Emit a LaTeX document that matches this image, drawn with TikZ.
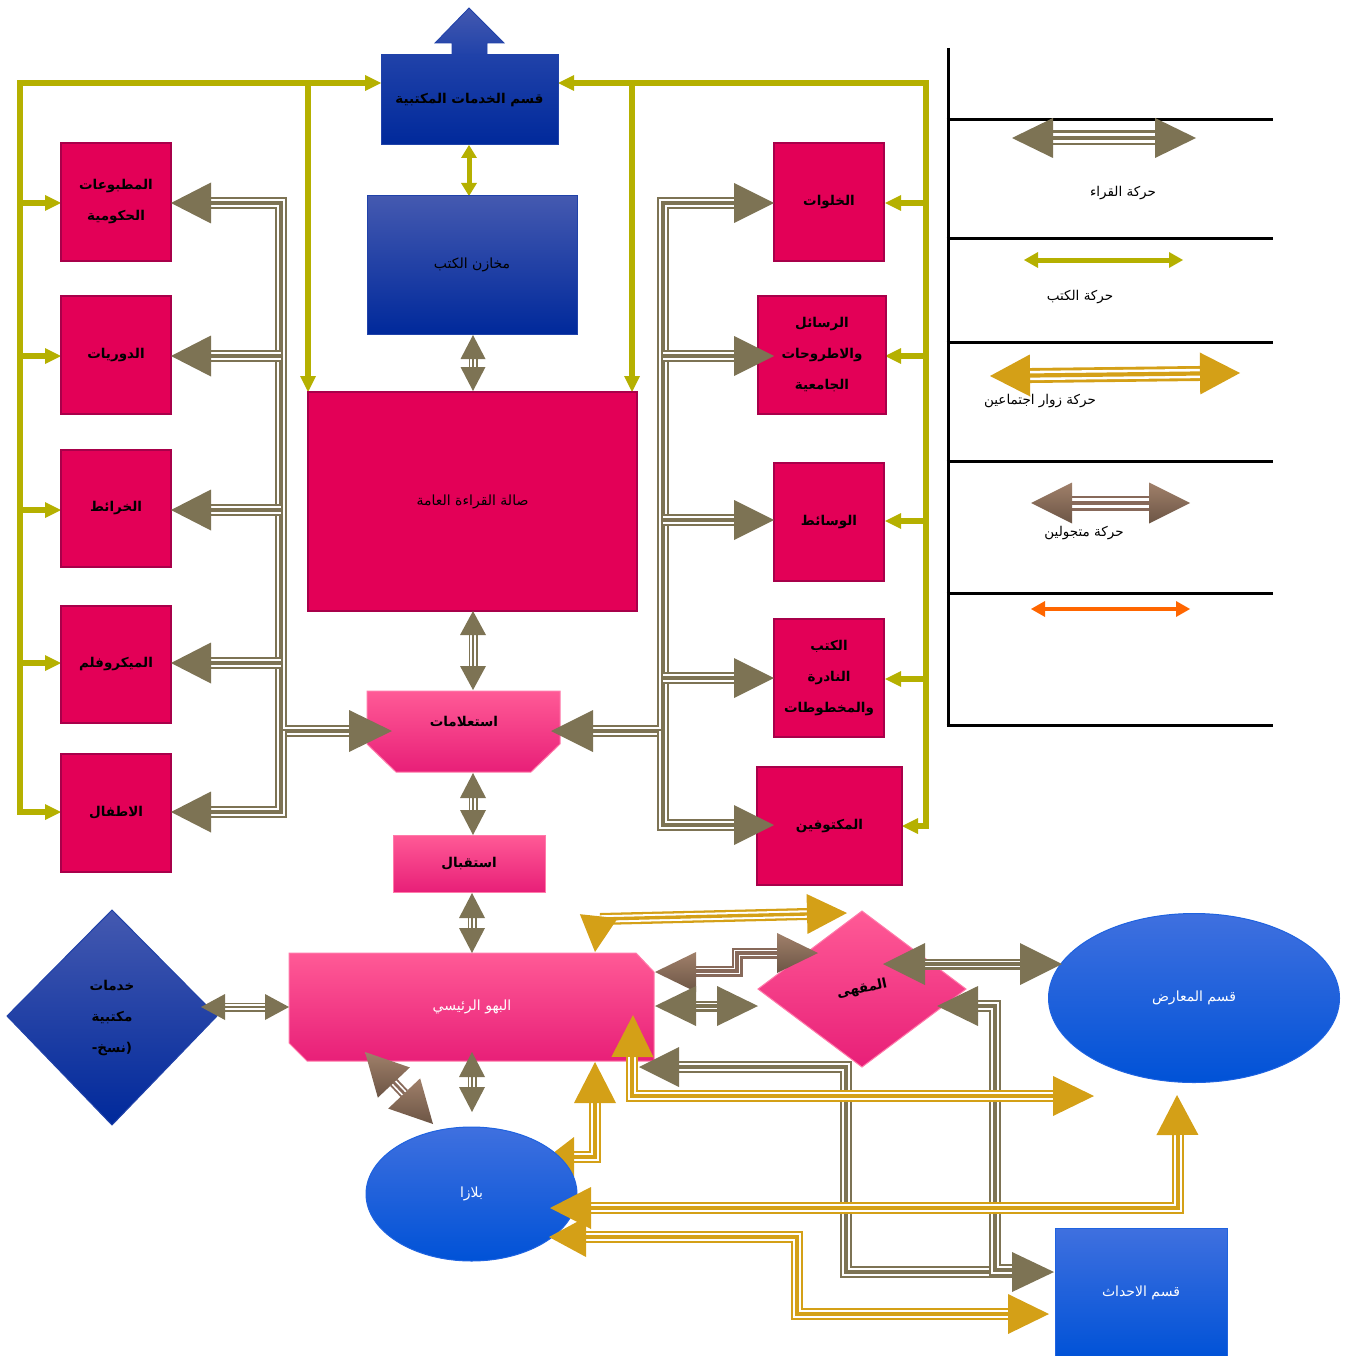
\documentclass[tikz,border=0pt]{standalone}
\usepackage{fontspec}
\usetikzlibrary{calc,shapes.geometric}
\TeXXeTstate=1
\newfontfamily\arabicfont[Script=Arabic]{DejaVu Sans}
\newcommand\AR[1]{{\arabicfont\beginR #1\endR}}
\definecolor{brn}{HTML}{7D7354}
\definecolor{olv}{HTML}{B5B000}
\definecolor{gld}{HTML}{D4A017}
\definecolor{mocT}{HTML}{A0806A}
\definecolor{mocB}{HTML}{6C5545}
\definecolor{moc}{HTML}{87695A}
\definecolor{crim}{HTML}{E30057}
\definecolor{crimD}{HTML}{A8004A}
\definecolor{pkT}{HTML}{FF5A96}
\definecolor{pkM}{HTML}{FF2E87}
\definecolor{pkB}{HTML}{E81F78}
\definecolor{pkE}{HTML}{FF7AAA}
\definecolor{dbT}{HTML}{2042A9}
\definecolor{dbB}{HTML}{00299B}
\definecolor{dbL}{HTML}{4459B0}
\definecolor{blT}{HTML}{3F70DF}
\definecolor{blB}{HTML}{0052D7}
\definecolor{blE}{HTML}{1F63E0}
\definecolor{org}{HTML}{FF6600}

% triple (compound) line
\newcommand\tline[3][12]{%
  \draw[#2,line width={#1*1pt},line join=miter] #3;
  \draw[white,line width={0.62*#1*1pt},line join=miter] #3;
  \draw[#2,line width={0.28*#1*1pt},line join=miter] #3;}
% arrow head: style, from, tip, length, half width
\newcommand\ahead[5]{%
  \path #2 coordinate (ahF) #3 coordinate (ahT);
  \path[#1] (ahT) -- ($(ahT)!#4!(ahF)!#5!90:(ahT)$) -- ($(ahT)!#4!(ahF)!#5!-90:(ahT)$) -- cycle;}
% double headed compound arrow
\newcommand\dblarr[6][12]{%
  \path #3 coordinate (dA) #4 coordinate (dB);
  \path ($(dA)!#5!(dB)$) coordinate (dA2) ($(dB)!#5!(dA)$) coordinate (dB2);
  \tline[#1]{#2}{(dA2) -- (dB2)}
  \ahead{fill=#2}{(dB)}{(dA)}{#5}{#6}
  \ahead{fill=#2}{(dA)}{(dB)}{#5}{#6}}

\begin{document}
\begin{tikzpicture}[x=1pt,y=-1pt,
  boldtxt/.style={font=\bfseries\fontsize{13.5}{31}\selectfont,align=center},
  normtxt/.style={font=\fontsize{14}{31}\selectfont,align=center},
  crimbox/.style={draw=crimD,line width=1.5pt,fill=crim,inner sep=0pt,boldtxt},
  pinkbox/.style={draw=pkE,line width=1pt,top color=pkT,middle color=pkM,bottom color=pkB,inner sep=0pt,boldtxt},
  bluebox/.style={draw=blE,line width=1pt,top color=blT,bottom color=blB,inner sep=0pt,normtxt,text=white},
  oln/.style={olv,line width=5.5pt,line join=miter},
  legtxt/.style={font=\fontsize{13.5}{15}\selectfont},
  mocsh/.style={top color=mocT,bottom color=mocB}]
\useasboundingbox (0,0) rectangle (1348,1356);

% ---------------- legend ----------------
\draw[line width=3pt] (948,48) -- (948,726.5);
\foreach \yy in {120,239,342,461,593,725} \draw[line width=3pt] (946.5,\yy) -- (1273,\yy);
\dblarr[15]{brn}{(1012,138)}{(1196,138)}{41pt}{20pt}
\draw[olv,line width=5pt] (1036,260) -- (1171,260);
\ahead{fill=olv}{(1100,260)}{(1024,260)}{14pt}{8pt}
\ahead{fill=olv}{(1100,260)}{(1183,260)}{14pt}{8pt}
\dblarr[15]{gld}{(990,376)}{(1240,373)}{40pt}{21pt}
\tline[15]{moc}{(1072,503) -- (1149,503)}
\ahead{mocsh}{(1100,503)}{(1031,503)}{41pt}{20.5pt}
\ahead{mocsh}{(1100,503)}{(1190,503)}{41pt}{20.5pt}
\draw[org,line width=4.5pt] (1044,609) -- (1177,609);
\ahead{fill=org}{(1100,609)}{(1031,609)}{14pt}{8pt}
\ahead{fill=org}{(1100,609)}{(1190,609)}{14pt}{8pt}
\node[legtxt] (l1) at (1123,193) {\AR{حركة القراء}};
\node[legtxt] (l2) at (1080,297) {\AR{حركة الكتب}};
\node[legtxt] (l3) at (1040,401) {\AR{حركة زوار اجتماعين}};
\node[legtxt] (l4) at (1084,533) {\AR{حركة متجولين}};

% ---------------- olive (books) ----------------
\draw[oln] (365,83) -- (20,83) -- (20,812) -- (45,812);
\foreach \yy in {203,356,510,663} \draw[oln] (20,\yy) -- (45,\yy);
\foreach \yy in {203,356,510,663,812} {\ahead{fill=olv}{(20,\yy)}{(61,\yy)}{16pt}{8pt}}
\ahead{fill=olv}{(20,83)}{(381,83)}{16pt}{8pt}
\draw[oln] (308,83) -- (308,377);
\ahead{fill=olv}{(308,83)}{(308,392)}{16pt}{8pt}
\draw[oln] (574,83) -- (926,83) -- (926,826) -- (918,826);
\foreach \yy in {203,356,521,679} \draw[oln] (926,\yy) -- (901,\yy);
\foreach \yy in {203,356,521,679} {\ahead{fill=olv}{(926,\yy)}{(885,\yy)}{16pt}{8pt}}
\ahead{fill=olv}{(940,826)}{(902,826)}{16pt}{8pt}
\ahead{fill=olv}{(926,83)}{(558,83)}{16pt}{8pt}
\draw[oln] (632,83) -- (632,377);
\ahead{fill=olv}{(632,83)}{(632,392)}{16pt}{8pt}
\draw[olv,line width=5pt] (469,157) -- (469,183);
\ahead{fill=olv}{(469,170)}{(469,145)}{13pt}{8pt}
\ahead{fill=olv}{(469,170)}{(469,196)}{13pt}{8pt}

% ---------------- boxes ----------------
\shadedraw[draw=dbT,line width=0.8pt,top color=dbL,bottom color=dbT] (452,56) -- (452,43) -- (435,43) -- (469,8) -- (504,43) -- (487,43) -- (487,56) -- cycle;
\node[draw=dbT,line width=1pt,top color=dbT,bottom color=dbB,minimum width=177pt,minimum height=90pt,inner sep=0pt,boldtxt] (khid) at (469.5,100) {\AR{قسم الخدمات المكتبية}};
\node[draw=dbT,line width=1pt,top color=dbL,bottom color=dbB,minimum width=210pt,minimum height=138pt,inner sep=0pt,normtxt] (makh) at (472,265) {\AR{مخازن الكتب}};
\node[crimbox,minimum width=329pt,minimum height=219pt,normtxt] (sala) at (472.5,501.5) {\AR{صالة القراءة العامة}};

\node[crimbox,minimum width=110pt,minimum height=118pt] (mat) at (116,202) {\AR{المطبوعات}\\\AR{الحكومية}};
\node[crimbox,minimum width=110pt,minimum height=118pt] (dor) at (116,355) {\AR{الدوريات}};
\node[crimbox,minimum width=110pt,minimum height=117pt] (khar) at (116,508.5) {\AR{الخرائط}};
\node[crimbox,minimum width=110pt,minimum height=117pt] (micro) at (116,664.5) {\AR{الميكروفلم}};
\node[crimbox,minimum width=110pt,minimum height=118pt] (atfal) at (116,813) {\AR{الاطفال}};

\node[crimbox,minimum width=110pt,minimum height=118pt] (khal) at (829,202) {\AR{الخلوات}};
\node[crimbox,minimum width=128pt,minimum height=118pt] (rasa) at (822,355) {\AR{الرسائل}\\\AR{والاطروحات}\\\AR{الجامعية}};
\node[crimbox,minimum width=110pt,minimum height=118pt] (wasa) at (829,522) {\AR{الوسائط}};
\node[crimbox,minimum width=110pt,minimum height=118pt] (kutub) at (829,678) {\AR{الكتب}\\\AR{النادرة}\\\AR{والمخطوطات}};
\node[crimbox,minimum width=145pt,minimum height=118pt] (makf) at (829.5,826) {\AR{المكتوفين}};

\shadedraw[draw=pkE,line width=1pt,top color=pkT,middle color=pkM,bottom color=pkB] (367,691) -- (560,691) -- (560,744) -- (531,772) -- (396,772) -- (367,744) -- cycle;
\node[boldtxt] (isti) at (464,722) {\AR{استعلامات}};
\node[pinkbox,minimum width=152pt,minimum height=57pt] (istq) at (469,863.5) {\AR{استقبال}};

\shadedraw[draw=pkE,line width=1pt,top color=pkT,middle color=pkM,bottom color=pkB] (289,953) -- (636,953) -- (654,972) -- (654,1061) -- (307,1061) -- (289,1043) -- cycle;
\node[normtxt,text=white] (bahw) at (472,1007) {\AR{البهو الرئيسي}};

\shadedraw[draw=dbT,line width=1pt,top color=dbL,bottom color=dbB] (112,910) -- (217,1016) -- (112,1125) -- (7,1016) -- cycle;
\node[boldtxt] (khad) at (112,1018) {\AR{خدمات}\\\AR{مكتبية}\\\AR{(نسخ-}};

\shadedraw[draw=pkE,line width=1pt,top color=pkT,middle color=pkM,bottom color=pkB] (862,911) -- (966,989) -- (862,1067) -- (758,989) -- cycle;
\node[boldtxt,rotate=12] (maqha) at (862,989) {\AR{المقهى}};

\node[ellipse,bluebox,minimum width=291pt,minimum height=169pt] (maarad) at (1194,998) {\AR{قسم المعارض}};

% gold connector partly hidden by plaza
\tline{gld}{(560,1157) -- (595,1157) -- (595,1103)}
\ahead{fill=gld}{(595,1157)}{(548,1157)}{26pt}{20pt}
\ahead{fill=gld}{(595,1157)}{(595,1062)}{41pt}{21pt}

\node[ellipse,bluebox,minimum width=211pt,minimum height=134pt] (plaza) at (471.5,1194) {\AR{بلازا}};
\node[bluebox,minimum width=172pt,minimum height=130pt] (ahdath) at (1141,1293) {\AR{قسم الاحداث}};

% ---------------- brown (readers) ----------------
\tline{brn}{(349,731) -- (281,731) -- (281,203) -- (211,203)}
\foreach \yy in {356,510,663} {\tline{brn}{(281,\yy) -- (211,\yy)}}
\tline{brn}{(281,731) -- (281,812) -- (211,812)}
\foreach \yy in {203,356,510,663,812} {\ahead{fill=brn}{(281,\yy)}{(171,\yy)}{40pt}{20.5pt}}
\ahead{fill=brn}{(281,731)}{(392,731)}{43pt}{21pt}

\tline{brn}{(593,731) -- (663,731) -- (663,203) -- (734,203)}
\foreach \yy in {356,520,678} {\tline{brn}{(663,\yy) -- (734,\yy)}}
\tline{brn}{(663,731) -- (663,825) -- (734,825)}
\foreach \yy in {203,356,520,678,825} {\ahead{fill=brn}{(663,\yy)}{(774,\yy)}{40pt}{20pt}}
\ahead{fill=brn}{(663,731)}{(551,731)}{42pt}{21pt}

\dblarr[9]{brn}{(473,335)}{(473,391)}{24pt}{12.5pt}
\dblarr[9]{brn}{(473,611)}{(473,690)}{24pt}{13pt}
\dblarr[9]{brn}{(473,773)}{(473,835)}{25pt}{13pt}
\dblarr[9]{brn}{(472,893)}{(472,953)}{25pt}{13pt}
\dblarr[9]{brn}{(472,1052)}{(472,1112)}{25pt}{13pt}
\dblarr[9]{brn}{(201,1007)}{(289,1007)}{24pt}{13pt}

% mocha (strollers)
\path (365,1052) coordinate (mA) (433,1124) coordinate (mB);
\tline[10]{moc}{($(mA)!42pt!(mB)$) -- ($(mB)!42pt!(mA)$)}
\ahead{mocsh}{(mB)}{(mA)}{42pt}{22pt}
\ahead{mocsh}{(mA)}{(mB)}{42pt}{22pt}
\tline[11]{moc}{(696,971) -- (737,971) -- (737,953) -- (777,953)}
\ahead{mocsh}{(737,972)}{(655,972)}{41pt}{20pt}
\ahead{mocsh}{(737,953)}{(818,953)}{41pt}{20pt}

\dblarr[11]{brn}{(655,1006)}{(758,1006)}{41pt}{20pt}
\dblarr[11]{brn}{(883,964)}{(1062,964)}{42pt}{21pt}

\tline{brn}{(679,1067) -- (846,1067) -- (846,1272) -- (1012,1272)}
\ahead{fill=brn}{(846,1067)}{(639,1067)}{40pt}{20pt}
\tline{brn}{(978,1006) -- (995,1006) -- (995,1270) -- (1012,1270)}
\ahead{fill=brn}{(995,1006)}{(937,1006)}{41pt}{20pt}
\ahead{fill=brn}{(846,1272)}{(1054,1272)}{42pt}{20pt}

% ---------------- gold (social visitors) ----------------
\tline{gld}{(600,919) -- (807,914)}
\ahead{fill=gld}{(600,905)}{(595,952)}{36pt}{19pt}
\ahead{fill=gld}{(600,919)}{(847,913)}{40pt}{20pt}
\tline{gld}{(632,1057) -- (632,1096) -- (1053,1096)}
\ahead{fill=gld}{(632,1096)}{(633,1015)}{42pt}{21pt}
\ahead{fill=gld}{(632,1096)}{(1094,1096)}{41pt}{20pt}
\tline{gld}{(591,1208) -- (1178,1208) -- (1178,1135)}
\ahead{fill=gld}{(1178,1208)}{(550,1208)}{41pt}{21pt}
\ahead{fill=gld}{(1178,1208)}{(1177,1095)}{40pt}{21pt}
\tline{gld}{(586,1237) -- (797,1237) -- (797,1314) -- (1008,1314)}
\ahead{fill=gld}{(797,1237)}{(549,1237)}{37pt}{20pt}
\ahead{fill=gld}{(797,1314)}{(1049,1314)}{41pt}{20pt}
\end{tikzpicture}
\end{document}
